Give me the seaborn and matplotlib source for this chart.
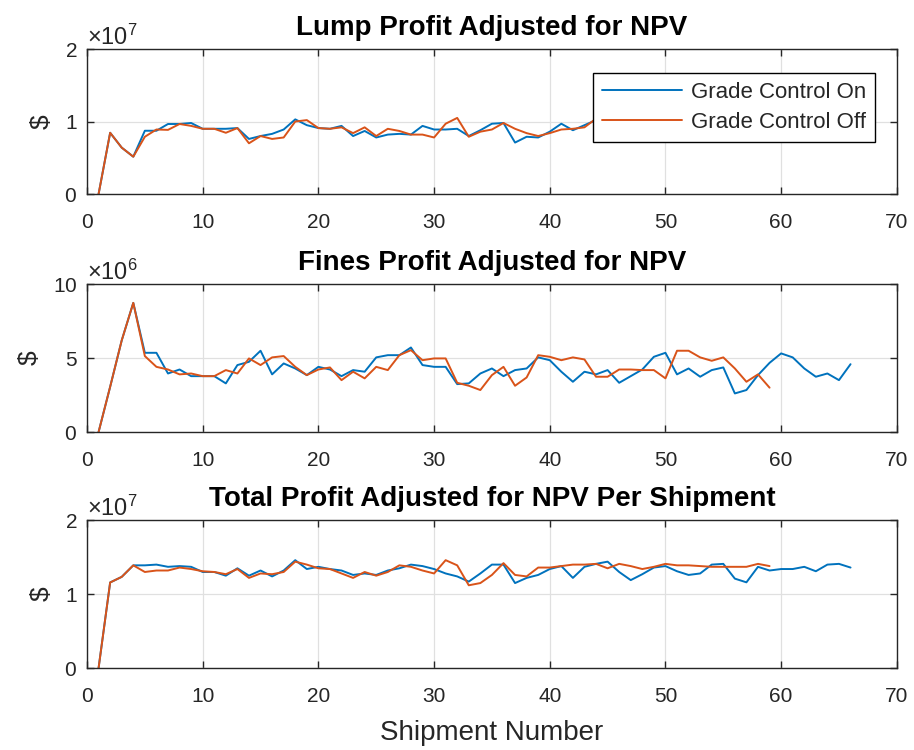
import numpy as np
import pandas as pd
import matplotlib
matplotlib.use("Agg")
import matplotlib.pyplot as plt
import seaborn as sns
from matplotlib.ticker import ScalarFormatter

# ---------------- data ----------------
shipment_on = list(range(1, 67))
shipment_off = list(range(1, 60))

lump_on = [0, 0.845, 0.64, 0.515, 0.873, 0.873, 0.966, 0.966, 0.98, 0.90,
           0.90, 0.90, 0.91, 0.76, 0.80, 0.83, 0.89, 1.03, 0.95, 0.91,
           0.90, 0.94, 0.80, 0.87, 0.78, 0.82, 0.83, 0.82, 0.94, 0.89,
           0.89, 0.90, 0.80, 0.88, 0.97, 0.98, 0.71, 0.79, 0.78, 0.86,
           0.97, 0.88, 0.95, 1.02, 1.02, 0.97, 0.81, 0.85, 0.85, 0.84,
           0.92, 0.83, 0.91, 0.98, 0.97, 0.95, 0.88, 0.99, 0.85, 0.81,
           0.84, 0.94, 0.94, 1.00, 1.06, 0.90]
lump_off = [0, 0.845, 0.64, 0.515, 0.79, 0.89, 0.885, 0.966, 0.94, 0.90,
            0.90, 0.845, 0.91, 0.70, 0.80, 0.76, 0.78, 1.00, 1.02, 0.91,
            0.90, 0.92, 0.84, 0.92, 0.80, 0.90, 0.87, 0.82, 0.82, 0.78,
            0.97, 1.05, 0.79, 0.86, 0.89, 0.98, 0.90, 0.84, 0.80, 0.84,
            0.89, 0.90, 0.92, 1.04, 0.98, 0.99, 0.96, 0.92, 0.95, 1.05,
            0.84, 0.84, 0.88, 0.89, 0.87, 0.94, 1.03, 1.02, 1.08]

fines_on = [0, 3.06, 6.2, 8.74, 5.36, 5.36, 3.96, 4.23, 3.78, 3.78,
            3.78, 3.29, 4.53, 4.75, 5.5, 3.9, 4.64, 4.3, 3.85, 4.41,
            4.23, 3.78, 4.19, 4.08, 5.05, 5.2, 5.2, 5.72, 4.53, 4.41,
            4.41, 3.24, 3.29, 3.96, 4.3, 3.78, 4.19, 4.3, 5.05, 4.86,
            4.08, 3.4, 4.08, 3.9, 4.19, 3.33, 3.78, 4.23, 5.09, 5.36,
            3.9, 4.3, 3.74, 4.19, 4.37, 2.61, 2.84, 3.85, 4.68, 5.32,
            5.05, 4.3, 3.74, 3.96, 3.51, 4.59]
fines_off = [0, 3.06, 6.2, 8.74, 5.14, 4.41, 4.23, 3.9, 3.96, 3.78,
             3.78, 4.19, 3.96, 4.98, 4.53, 5.05, 5.14, 4.41, 3.85, 4.23,
             4.37, 3.51, 4.08, 3.63, 4.41, 4.19, 5.2, 5.54, 4.86, 4.98,
             4.98, 3.33, 3.13, 2.84, 3.85, 4.41, 3.13, 3.69, 5.2, 5.09,
             4.86, 5.05, 4.91, 3.74, 3.74, 4.23, 4.23, 4.19, 4.19, 3.63,
             5.5, 5.5, 5.05, 4.82, 5.05, 4.3, 3.4, 3.9, 3.0]

total_on = [0, 1.158, 1.234, 1.39, 1.39, 1.40, 1.37, 1.38, 1.37, 1.30,
            1.30, 1.25, 1.35, 1.25, 1.32, 1.24, 1.32, 1.46, 1.34, 1.37,
            1.34, 1.32, 1.26, 1.28, 1.26, 1.32, 1.35, 1.40, 1.38, 1.34,
            1.28, 1.24, 1.17, 1.28, 1.40, 1.40, 1.15, 1.22, 1.26, 1.34,
            1.38, 1.22, 1.37, 1.41, 1.44, 1.30, 1.19, 1.27, 1.36, 1.38,
            1.31, 1.26, 1.28, 1.40, 1.41, 1.21, 1.16, 1.37, 1.32, 1.34,
            1.34, 1.37, 1.31, 1.40, 1.41, 1.36]
total_off = [0, 1.158, 1.234, 1.39, 1.30, 1.32, 1.32, 1.36, 1.34, 1.31,
             1.30, 1.27, 1.34, 1.22, 1.28, 1.27, 1.30, 1.44, 1.40, 1.35,
             1.34, 1.28, 1.22, 1.30, 1.25, 1.30, 1.39, 1.37, 1.32, 1.28,
             1.46, 1.39, 1.12, 1.15, 1.26, 1.42, 1.26, 1.24, 1.36, 1.36,
             1.38, 1.40, 1.40, 1.41, 1.35, 1.41, 1.38, 1.34, 1.37, 1.41,
             1.39, 1.39, 1.38, 1.37, 1.37, 1.37, 1.37, 1.41, 1.38]

series_names = ["Grade Control On", "Grade Control Off"]
titles = ["Lump Profit Adjusted for NPV",
          "Fines Profit Adjusted for NPV",
          "Total Profit Adjusted for NPV Per Shipment"]
x_ticks = [0, 10, 20, 30, 40, 50, 60, 70]

# ---------------- style ----------------
sns.set_theme(style="white")
plt.rcParams['font.family'] = ['Liberation Sans', 'DejaVu Sans']
plt.rcParams['mathtext.fontset'] = 'custom'
plt.rcParams['mathtext.rm'] = 'Liberation Sans'
plt.rcParams['mathtext.it'] = 'Liberation Sans:italic'
plt.rcParams['mathtext.bf'] = 'Liberation Sans:bold'

palette = {"Grade Control On": "#0072BD", "Grade Control Off": "#D95319"}
spine_c = "#262626"
tick_c = "#262626"


def make_df(on, off, scale):
    return pd.concat([
        pd.DataFrame({"Shipment": shipment_on,
                      "Profit": np.array(on) * scale,
                      "Series": series_names[0]}),
        pd.DataFrame({"Shipment": shipment_off,
                      "Profit": np.array(off) * scale,
                      "Series": series_names[1]}),
    ], ignore_index=True)


panels = [
    (make_df(lump_on, lump_off, 1e7), (0, 2e7), [0, 1e7, 2e7], 7),
    (make_df(fines_on, fines_off, 1e6), (0, 1e7), [0, 5e6, 1e7], 6),
    (make_df(total_on, total_off, 1e7), (0, 2e7), [0, 1e7, 2e7], 7),
]

fig = plt.figure(figsize=(9.14, 7.5), dpi=100)
left, width = 0.0952, 0.886
rects = [(left, 0.7413, width, 0.1933),
         (left, 0.424, width, 0.197),
         (left, 0.1093, width, 0.197)]

for i, ((df, ylim, yticks, power), rect, title) in enumerate(zip(panels, rects, titles)):
    ax = fig.add_axes(rect)
    sns.lineplot(data=df, x="Shipment", y="Profit", hue="Series",
                 hue_order=series_names, palette=palette, linewidth=1.4,
                 ax=ax, legend=(i == 0), estimator=None, sort=False)
    ax.set_xlim(0, 70)
    ax.set_ylim(*ylim)
    ax.set_xticks(x_ticks)
    ax.set_yticks(yticks)
    fmt = ScalarFormatter(useMathText=True)
    fmt.set_powerlimits((power, power))
    ax.yaxis.set_major_formatter(fmt)
    ax.yaxis.get_offset_text().set_fontsize(17)
    ax.yaxis.get_offset_text().set_color("#404040")
    ax.grid(True, color="#e0e0e0", linewidth=0.9)
    ax.set_axisbelow(True)
    for s in ax.spines.values():
        s.set_visible(True)
        s.set_color(spine_c)
        s.set_linewidth(1.0)
    ax.tick_params(axis="both", which="both", direction="in", length=5,
                   width=1.0, color=spine_c, labelsize=15, labelcolor=tick_c,
                   top=True, right=True, bottom=True, left=True)
    ax.tick_params(axis="x", pad=14)
    ax.tick_params(axis="y", pad=7)
    ax.set_title(title, fontsize=20, fontweight="bold", color="black", pad=10)
    ax.set_ylabel("\\$", fontsize=19, color=tick_c, labelpad=8)
    if i == 2:
        ax.set_xlabel("Shipment Number", fontsize=20, color="#262626",
                      labelpad=10)
    else:
        ax.set_xlabel("")
    if i == 0:
        leg = ax.legend(loc="upper right", bbox_to_anchor=(0.973, 0.834),
                        frameon=True, fancybox=False, framealpha=1,
                        edgecolor="black", fontsize=16, handlelength=3.6,
                        handletextpad=0.4, labelspacing=0.4, borderpad=0.4,
                        borderaxespad=0.0)
        leg.get_frame().set_linewidth(1.0)
        for t in leg.get_texts():
            t.set_color("#262626")
        for lh in leg.get_lines():
            lh.set_linewidth(1.4)

fig.savefig("out.png", dpi=100)
